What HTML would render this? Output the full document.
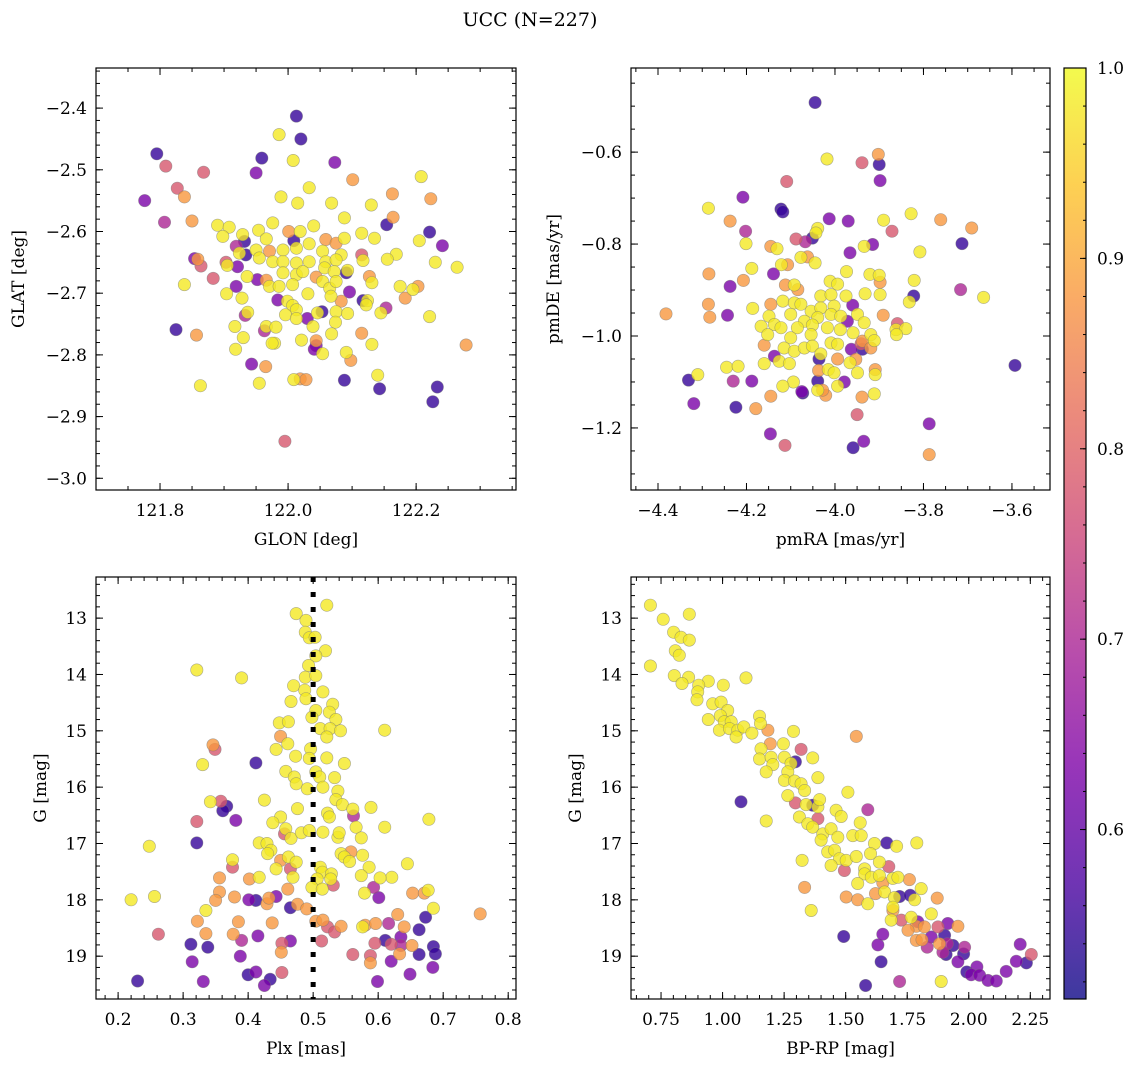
<!DOCTYPE html>
<html><head><meta charset="utf-8"><title>UCC (N=227)</title>
<style>
html,body{margin:0;padding:0;background:#fff;}
svg{display:block;font-family:"DejaVu Serif","Liberation Serif",serif;}
</style></head>
<body>
<svg id="fig" width="1136" height="1067" viewBox="0 0 1136 1067" xmlns="http://www.w3.org/2000/svg">
<defs>
<linearGradient id="plasma" x1="0" y1="1" x2="0" y2="0">
<stop offset="0" stop-color="#0d0887"/><stop offset="0.125" stop-color="#4c02a1"/><stop offset="0.25" stop-color="#7e03a8"/><stop offset="0.375" stop-color="#a82296"/><stop offset="0.5" stop-color="#cc4778"/><stop offset="0.625" stop-color="#e66c5c"/><stop offset="0.75" stop-color="#f89540"/><stop offset="0.875" stop-color="#fdc527"/><stop offset="1" stop-color="#f0f921"/>
</linearGradient>
</defs>
<text x="530" y="26" font-size="19" text-anchor="middle">UCC (N=227)</text>
</svg>
<script>
// ---- Panel 1: GLON / GLAT ----
const glon1=[122.013,121.986,122.020,121.795,121.959,122.008,122.073,121.809,121.868,121.950,122.101,122.208,121.827,121.838,122.033,121.989,121.776,122.015,122.068,122.130,122.163,122.223,122.088,122.164,122.154,121.807,121.850,121.890,121.908,121.976,122.040,122.221,122.241,122.001,122.019,121.954,121.898,121.929,121.966,122.059,122.088,122.115,122.135,122.205,122.009,121.932,121.919,121.934,121.950,121.971,121.924,121.992,122.013,122.033,122.054,122.075,122.083,122.115,122.117,122.169,122.155,122.230,122.264,121.854,121.859,121.864,121.903,121.905,121.921,121.955,121.976,121.992,122.013,122.033,122.059,122.075,121.992,122.013,122.023,122.044,122.057,122.072,122.091,122.093,122.127,122.131,121.936,121.952,121.966,121.883,121.838,121.919,121.971,121.986,122.007,122.054,122.065,122.075,122.096,122.067,122.083,122.031,122.175,122.203,122.195,122.183,121.904,121.928,121.984,121.999,122.117,122.124,122.122,122.153,122.145,121.937,121.933,122.007,122.013,122.053,122.046,122.075,122.093,121.996,122.013,122.030,122.221,121.825,121.917,121.966,121.963,121.981,122.039,122.074,121.857,121.930,122.068,122.115,121.979,121.975,122.021,122.044,122.044,122.131,122.041,122.054,121.918,122.091,122.098,121.943,121.965,122.140,121.863,121.955,122.009,122.019,122.028,122.088,122.143,122.233,122.226,121.995,122.278];
const glat1=[-2.413,-2.443,-2.450,-2.474,-2.481,-2.485,-2.488,-2.494,-2.504,-2.505,-2.516,-2.511,-2.530,-2.544,-2.529,-2.544,-2.550,-2.554,-2.554,-2.557,-2.539,-2.547,-2.578,-2.577,-2.589,-2.585,-2.583,-2.590,-2.593,-2.586,-2.591,-2.601,-2.623,-2.600,-2.600,-2.598,-2.608,-2.605,-2.612,-2.613,-2.611,-2.603,-2.611,-2.615,-2.615,-2.616,-2.624,-2.638,-2.630,-2.632,-2.635,-2.630,-2.627,-2.620,-2.632,-2.619,-2.638,-2.638,-2.647,-2.637,-2.645,-2.650,-2.658,-2.644,-2.645,-2.656,-2.650,-2.655,-2.657,-2.643,-2.649,-2.649,-2.651,-2.649,-2.649,-2.646,-2.667,-2.670,-2.665,-2.674,-2.659,-2.665,-2.667,-2.663,-2.673,-2.683,-2.673,-2.678,-2.679,-2.676,-2.686,-2.689,-2.689,-2.689,-2.686,-2.681,-2.692,-2.681,-2.698,-2.705,-2.713,-2.701,-2.689,-2.689,-2.694,-2.708,-2.701,-2.708,-2.711,-2.713,-2.712,-2.712,-2.719,-2.724,-2.732,-2.731,-2.736,-2.720,-2.727,-2.730,-2.732,-2.730,-2.733,-2.735,-2.741,-2.741,-2.738,-2.759,-2.754,-2.754,-2.761,-2.755,-2.754,-2.747,-2.768,-2.772,-2.766,-2.765,-2.781,-2.781,-2.776,-2.777,-2.785,-2.783,-2.791,-2.798,-2.791,-2.796,-2.809,-2.815,-2.819,-2.833,-2.850,-2.846,-2.840,-2.839,-2.840,-2.841,-2.855,-2.852,-2.876,-2.940,-2.784];
const prob1="DYDDDYVPPVOYPOYYVYYYOOYODMOYYYYDVOYYYYYOYYYYDDMDYOYYYYYOYPYYYYYVOPPYVYYYYYYYYYYOYYDYOYYVOPYVYYYYYYVYOYYOYOYYVYDYYMYYMYYDYYYYYVYDYYMYYYOYYOYYYOVYVYYYOVOYYYYOODDDDPO";
// ---- Panel 2: pmRA / pmDE ----
const pmra2=[-4.045,-4.018,-3.939,-3.902,-3.900,-3.898,-4.109,-4.208,-4.286,-4.122,-4.118,-4.013,-3.970,-4.237,-3.890,-3.828,-3.761,-3.691,-4.202,-3.871,-4.039,-4.043,-4.051,-4.088,-4.067,-4.201,-3.713,-4.145,-4.131,-3.934,-3.915,-3.966,-3.808,-4.077,-4.062,-4.045,-4.121,-4.107,-4.188,-4.139,-4.285,-3.974,-3.921,-3.900,-3.898,-4.011,-3.994,-3.821,-4.112,-4.092,-4.237,-4.207,-4.084,-3.716,-3.664,-3.822,-3.832,-3.932,-3.898,-4.032,-4.009,-3.975,-4.286,-4.243,-4.283,-4.382,-4.186,-4.145,-4.149,-4.118,-4.092,-4.077,-4.054,-4.032,-4.002,-3.960,-3.949,-3.891,-4.167,-4.137,-4.100,-4.069,-4.039,-4.009,-3.987,-3.972,-3.934,-3.859,-3.862,-3.840,-3.861,-4.152,-4.122,-4.085,-4.051,-4.017,-3.988,-3.959,-3.919,-3.938,-3.911,-4.160,-4.100,-4.054,-4.009,-3.994,-3.919,-3.963,-3.938,-3.941,-4.137,-4.115,-4.092,-4.069,-4.051,-4.032,-4.126,-4.103,-4.036,-3.994,-3.966,-3.953,-4.160,-4.245,-4.219,-4.037,-4.015,-4.002,-3.949,-3.909,-3.909,-4.310,-4.331,-4.230,-4.188,-4.094,-4.039,-3.994,-3.979,-4.118,-4.145,-4.075,-4.073,-4.039,-4.021,-4.028,-3.939,-3.911,-4.319,-4.224,-4.179,-3.950,-3.593,-3.787,-4.146,-4.113,-3.959,-3.935,-3.787];
const pmde2=[-0.492,-0.615,-0.623,-0.605,-0.627,-0.662,-0.664,-0.698,-0.722,-0.724,-0.730,-0.745,-0.750,-0.750,-0.748,-0.734,-0.747,-0.765,-0.772,-0.772,-0.766,-0.776,-0.787,-0.789,-0.795,-0.799,-0.799,-0.805,-0.810,-0.805,-0.801,-0.819,-0.817,-0.829,-0.828,-0.841,-0.845,-0.845,-0.853,-0.865,-0.865,-0.860,-0.866,-0.868,-0.883,-0.881,-0.887,-0.879,-0.889,-0.889,-0.892,-0.879,-0.899,-0.899,-0.916,-0.913,-0.926,-0.908,-0.910,-0.913,-0.910,-0.913,-0.931,-0.955,-0.959,-0.952,-0.940,-0.931,-0.957,-0.924,-0.928,-0.931,-0.946,-0.939,-0.935,-0.933,-0.953,-0.955,-0.979,-0.975,-0.953,-0.968,-0.960,-0.953,-0.957,-0.968,-0.971,-0.973,-0.986,-0.984,-0.997,-0.997,-0.982,-0.982,-0.976,-0.982,-0.986,-0.993,-0.997,-1.011,-1.010,-1.020,-1.004,-0.997,-1.015,-1.018,-1.026,-1.029,-1.029,-1.017,-1.044,-1.026,-1.033,-1.026,-1.022,-1.039,-1.055,-1.060,-1.050,-1.050,-1.058,-1.051,-1.060,-1.068,-1.066,-1.075,-1.073,-1.080,-1.080,-1.073,-1.084,-1.084,-1.096,-1.098,-1.098,-1.100,-1.098,-1.109,-1.100,-1.109,-1.131,-1.121,-1.124,-1.118,-1.129,-1.118,-1.133,-1.126,-1.147,-1.155,-1.158,-1.171,-1.064,-1.191,-1.213,-1.238,-1.243,-1.229,-1.258];
const prob2="DYPODVPVYDDVVOYYOOMPYYDPMYDOYYVVYYOYYOYVOYYYOYYYOYVOOMYDYYYYYYOVOOYOYYYYYYYVYOYYYYYYYVYPYYYYYYYYYYYOYOYYYYOVDPVYYYYYYYDOYOYYYOYYYOYYDMVYDYVYOVDYOOOYVDOPDVVPDVOM";
// ---- Panel 3: Plx / G ----
const plx3=[0.521,0.474,0.489,0.488,0.494,0.503,0.519,0.504,0.493,0.321,0.390,0.488,0.504,0.470,0.487,0.515,0.466,0.489,0.530,0.525,0.535,0.504,0.498,0.448,0.462,0.511,0.526,0.542,0.521,0.610,0.450,0.346,0.349,0.461,0.443,0.496,0.330,0.412,0.473,0.494,0.521,0.548,0.458,0.471,0.504,0.510,0.474,0.533,0.491,0.515,0.538,0.535,0.545,0.342,0.358,0.367,0.361,0.425,0.476,0.561,0.562,0.589,0.678,0.321,0.381,0.450,0.438,0.522,0.525,0.566,0.610,0.458,0.456,0.466,0.482,0.494,0.515,0.538,0.540,0.574,0.248,0.321,0.417,0.429,0.435,0.430,0.543,0.558,0.548,0.576,0.556,0.586,0.376,0.376,0.450,0.462,0.474,0.443,0.465,0.511,0.514,0.528,0.469,0.645,0.356,0.402,0.417,0.506,0.527,0.531,0.574,0.621,0.603,0.498,0.514,0.461,0.593,0.579,0.601,0.653,0.671,0.677,0.220,0.256,0.356,0.379,0.350,0.401,0.412,0.429,0.432,0.443,0.465,0.476,0.490,0.685,0.335,0.322,0.385,0.437,0.504,0.515,0.522,0.533,0.543,0.576,0.580,0.596,0.616,0.630,0.640,0.663,0.673,0.757,0.262,0.335,0.377,0.390,0.415,0.465,0.452,0.513,0.312,0.338,0.451,0.388,0.595,0.611,0.620,0.635,0.635,0.652,0.561,0.588,0.588,0.620,0.633,0.663,0.685,0.688,0.684,0.314,0.452,0.400,0.412,0.434,0.425,0.230,0.331,0.599,0.649];
const gmag3=[12.77,12.92,13.04,13.25,13.35,13.34,13.58,13.67,13.84,13.92,14.06,14.05,14.02,14.20,14.28,14.31,14.48,14.43,14.53,14.67,14.80,14.64,14.76,14.86,14.84,14.96,14.96,15.00,15.11,14.99,15.10,15.25,15.33,15.23,15.33,15.32,15.60,15.57,15.45,15.49,15.48,15.58,15.72,15.82,15.73,15.82,15.94,15.83,16.03,16.00,16.07,16.22,16.31,16.26,16.25,16.34,16.42,16.23,16.38,16.39,16.51,16.36,16.57,16.61,16.59,16.53,16.63,16.46,16.53,16.71,16.71,16.74,16.83,16.91,16.81,16.77,16.80,16.89,16.81,16.90,17.05,16.99,16.99,17.00,17.12,17.18,17.18,17.15,17.24,17.21,17.32,17.42,17.29,17.42,17.30,17.24,17.33,17.45,17.45,17.42,17.51,17.54,17.60,17.36,17.61,17.63,17.60,17.63,17.63,17.74,17.57,17.60,17.61,17.78,17.81,17.81,17.78,17.88,17.96,17.88,17.88,17.83,18.00,17.94,17.86,17.95,18.01,18.00,18.01,18.07,17.97,17.94,18.14,18.08,18.16,18.15,18.19,18.38,18.39,18.41,18.38,18.36,18.48,18.57,18.47,18.48,18.45,18.42,18.42,18.26,18.48,18.53,18.31,18.25,18.61,18.60,18.61,18.72,18.64,18.73,18.77,18.73,18.79,18.84,18.93,19.00,18.77,18.72,18.79,18.66,18.81,18.81,18.97,18.99,19.12,19.09,18.96,18.97,18.83,18.96,19.20,19.10,19.29,19.33,19.28,19.41,19.52,19.44,19.45,19.45,19.32];
const prob3="YYYYYYYYYYYYYYYYYYYYYYYYYYYYYYOOPYYYYDYYYYYYYYYYYYYYYYPDDYYYMYYPVYYYYYYYPYYYYYYYYDYYYYYOYYYYYPOYYYPYYYYYOOYYYPYYYYYOMYVOOYYYOOOVDOOVDOOYYOOOOOPPOYOOMOODDOPOOMVVPPDDOVPDPVMOPPOVODDDVVPDVDVDVVVVVDMV";
const plxRef=[0.5];
// ---- Panel 4: BP-RP / G ----
const bprp4=[0.707,0.759,0.865,0.801,0.831,0.865,0.808,0.824,0.707,0.804,0.862,0.835,1.095,0.942,1.003,0.903,0.899,0.896,0.960,0.994,1.021,0.991,0.942,1.007,1.035,0.987,1.028,1.062,1.055,1.086,1.119,1.150,1.154,1.184,1.288,1.543,1.194,1.156,1.150,1.197,1.204,1.247,1.251,1.319,1.366,1.296,1.278,1.265,1.251,1.292,1.319,1.333,1.387,1.177,1.265,1.296,1.339,1.366,1.387,1.394,1.509,1.075,1.590,1.461,1.482,1.312,1.346,1.387,1.366,1.407,1.441,1.468,1.529,1.559,1.563,1.177,1.400,1.427,1.455,1.475,1.502,1.543,1.617,1.667,1.707,1.789,1.601,1.637,1.675,1.323,1.441,1.495,1.577,1.577,1.549,1.604,1.637,1.651,1.692,1.712,1.759,1.807,1.333,1.502,1.549,1.590,1.621,1.658,1.698,1.719,1.762,1.780,1.872,1.360,1.692,1.692,1.685,1.726,1.766,1.793,1.848,1.875,1.915,1.956,1.787,1.753,1.820,1.848,1.902,1.787,1.810,1.831,1.881,1.913,1.895,1.936,1.983,1.908,1.956,1.979,1.492,1.631,1.651,1.644,1.992,2.033,2.010,2.044,2.078,2.112,2.152,2.193,2.234,2.254,2.209,1.581,1.719,1.888];
const gmag4=[12.77,13.02,12.93,13.25,13.34,13.39,13.58,13.66,13.85,14.02,14.05,14.16,14.06,14.12,14.19,14.19,14.31,14.45,14.52,14.49,14.64,14.73,14.80,14.84,14.84,14.99,14.96,14.99,15.11,14.93,15.04,14.74,14.87,14.99,15.01,15.10,15.23,15.32,15.50,15.47,15.60,15.23,15.47,15.33,15.48,15.55,15.58,15.73,15.88,15.89,15.94,16.06,15.83,15.73,16.15,16.28,16.31,16.32,16.35,16.22,16.09,16.26,16.40,16.41,16.52,16.53,16.65,16.56,16.71,16.83,16.74,16.89,16.86,16.63,16.86,16.60,16.94,17.15,17.12,17.27,17.30,17.23,17.00,16.99,17.05,16.99,17.18,17.33,17.41,17.30,17.39,17.48,17.45,17.54,17.71,17.60,17.57,17.70,17.62,17.60,17.64,17.80,17.78,17.95,18.00,18.07,17.89,17.86,17.96,17.94,17.92,18.00,17.97,18.19,18.13,18.19,18.36,18.36,18.31,18.39,18.25,18.48,18.42,18.47,18.47,18.54,18.48,18.66,18.63,18.72,18.71,18.84,18.78,18.78,18.93,18.81,18.84,18.97,19.10,18.96,18.65,18.80,18.61,19.10,19.28,19.19,19.33,19.34,19.43,19.44,19.27,19.09,19.12,18.97,18.79,19.52,19.45,19.45];
const prob4="YYYYYYYYYYYYYYYYYYYYYYYYYYYYYYYYYOYOOYYYYYYPYDYYYYYYYYYPYDYYYDMYYYYPYYYYYYYYYYYYYYYDYYYYPYYPYYYYYOYYOYOOOYOYYDDYOYYOYPYVYPVOOOOVDOOMOMMDMDVDDVVDDVVVVVVVDPVDM";
// probability levels for the letter codes
const probLevels={D:0.55,V:0.63,M:0.70,P:0.78,O:0.88,Y:0.98};
const cbTicks=[0.6,0.7,0.8,0.9,1.0];

const svg=document.getElementById('fig');
const NS='http://www.w3.org/2000/svg';
function mk(tag,attrs,parent){const e=document.createElementNS(NS,tag);for(const k in attrs)e.setAttribute(k,attrs[k]);(parent||svg).appendChild(e);return e;}
const stops=[[0,[13,8,135]],[0.125,[76,2,161]],[0.25,[126,3,168]],[0.375,[168,34,150]],[0.5,[204,71,120]],[0.625,[230,108,92]],[0.75,[248,149,64]],[0.875,[253,197,39]],[1,[240,249,33]]];
const VMIN=0.511,VMAX=1.0;
function plasma(p){let t=(p-VMIN)/(VMAX-VMIN);t=Math.max(0,Math.min(1,t));for(let i=1;i<stops.length;i++){if(t<=stops[i][0]){const a=stops[i-1],b=stops[i];const f=(t-a[0])/(b[0]-a[0]);return 'rgb('+a[1].map((v,j)=>Math.round(v+(b[1][j]-v)*f)).join(',')+')';}}return 'rgb(240,249,33)';}
function fmt(v,d){const s=Math.abs(v).toFixed(d);return (v<-1e-9?'\u2212':'')+s;}
const FS=17;

function panel(cfg){
  const {name,x0,y0,x1,y1,xd,yd,yinv,xmaj,xmin,ymaj,ymin,xdec,ydec,xlabel,ylabel,xs,ys,ps}=cfg;
  const g=mk('g',{});
  
  
  const sx=v=>x0+(v-xd[0])/(xd[1]-xd[0])*(x1-x0);
  const sy=v=>yinv? y0+(v-yd[0])/(yd[1]-yd[0])*(y1-y0) : y1-(v-yd[0])/(yd[1]-yd[0])*(y1-y0);
  const clip='clip-'+name;
  const cp=mk('clipPath',{id:clip},g);mk('rect',{x:x0,y:y0,width:x1-x0,height:y1-y0},cp);
  const pg=mk('g',{'clip-path':'url(#'+clip+')'},g);
  const idx=xs.map((_,i)=>i).sort((a,b)=>(probLevels[ps[a]]||0.98)-(probLevels[ps[b]]||0.98));
  idx.forEach(i=>{
    const p=probLevels[ps[i]]||0.98;
    const c=mk('circle',{cx:sx(xs[i]).toFixed(1),cy:sy(ys[i]).toFixed(1),r:6.2,fill:plasma(p),'fill-opacity':0.8,stroke:'#777','stroke-opacity':0.6,'stroke-width':0.6},pg);
    
    
  });
  if(cfg.extra)cfg.extra(pg,sx,sy);
  const tg=mk('g',{stroke:'#000','stroke-width':1},g);
  function ticksX(step,len,labels){const s=Math.ceil(xd[0]/step-1e-6);for(let k=s;k*step<=xd[1]+1e-9;k++){const v=+(k*step).toFixed(6);const X=sx(v);mk('line',{x1:X,y1:y1,x2:X,y2:y1-len},tg);mk('line',{x1:X,y1:y0,x2:X,y2:y0+len},tg);
    if(labels){const t=mk('text',{x:X,y:y1+26,'font-size':FS,'text-anchor':'middle',stroke:'none',fill:'#000'},g);t.textContent=fmt(v,xdec);}}}
  function ticksY(step,len,labels){const s=Math.ceil(yd[0]/step-1e-6);for(let k=s;k*step<=yd[1]+1e-9;k++){const v=+(k*step).toFixed(6);const Y=sy(v);mk('line',{x1:x0,y1:Y,x2:x0+len,y2:Y},tg);mk('line',{x1:x1,y1:Y,x2:x1-len,y2:Y},tg);
    if(labels){const t=mk('text',{x:x0-9,y:Y+6,'font-size':FS,'text-anchor':'end',stroke:'none',fill:'#000'},g);t.textContent=fmt(v,ydec);}}}
  ticksX(xmin,4,false);ticksX(xmaj,7,true);ticksY(ymin,4,false);ticksY(ymaj,7,true);
  mk('rect',{x:x0,y:y0,width:x1-x0,height:y1-y0,fill:'none',stroke:'#000','stroke-width':1.2},g);
  const xl=mk('text',{x:(x0+x1)/2,y:y1+55,'font-size':FS,'text-anchor':'middle'},g);xl.textContent=xlabel;
  
  const lx=cfg.ylx,ly=(y0+y1)/2;
  const yl=mk('text',{x:lx,y:ly,'font-size':FS,'text-anchor':'middle',transform:'rotate(-90 '+lx+' '+ly+')'},g);yl.textContent=ylabel;
  
}

panel({name:'glon-glat-panel',x0:96,y0:68,x1:516,y1:490,xd:[121.7,122.356],yd:[-3.019,-2.335],xmaj:0.2,xmin:0.05,ymaj:0.1,ymin:0.02,xdec:1,ydec:1,xlabel:'GLON [deg]',ylabel:'GLAT [deg]',ylx:24,xs:glon1,ys:glat1,ps:prob1});
panel({name:'pm-panel',x0:631,y0:68,x1:1050,y1:490,xd:[-4.461,-3.514],yd:[-1.335,-0.417],xmaj:0.2,xmin:0.05,ymaj:0.2,ymin:0.05,xdec:1,ydec:1,xlabel:'pmRA [mas/yr]',ylabel:'pmDE [mas/yr]',ylx:559,xs:pmra2,ys:pmde2,ps:prob2});
panel({name:'plx-g-panel',x0:96,y0:577,x1:516,y1:999,xd:[0.166,0.812],yd:[12.27,19.76],yinv:true,xmaj:0.1,xmin:0.02,ymaj:1,ymin:0.2,xdec:1,ydec:0,xlabel:'Plx [mas]',ylabel:'G [mag]',ylx:46,xs:plx3,ys:gmag3,ps:prob3,
  extra:(pg,sx,sy)=>{plxRef.forEach(v=>{const l=mk('line',{x1:sx(v),y1:577,x2:sx(v),y2:999,stroke:'#000','stroke-width':5,'stroke-dasharray':'5,10'},pg);});}});
panel({name:'cmd-panel',x0:631,y0:577,x1:1050,y1:999,xd:[0.628,2.33],yd:[12.27,19.76],yinv:true,xmaj:0.25,xmin:0.05,ymaj:1,ymin:0.2,xdec:2,ydec:0,xlabel:'BP-RP [mag]',ylabel:'G [mag]',ylx:581,xs:bprp4,ys:gmag4,ps:prob4});

// colorbar
const cb=mk('g',{});


const cx0=1064,cx1=1086,cy0=68,cy1=999;
mk('rect',{x:cx0,y:cy0,width:cx1-cx0,height:cy1-cy0,fill:'url(#plasma)','fill-opacity':0.8},cb);
const cby=v=>cy1-(v-VMIN)/(VMAX-VMIN)*(cy1-cy0);
for(let k=26;k<=50;k++){const v=k*0.02;if(v<VMIN)continue;const Y=cby(v);mk('line',{x1:cx1,y1:Y,x2:cx1-3,y2:Y,stroke:'#000'},cb);}
cbTicks.forEach(v=>{const Y=cby(v);mk('line',{x1:cx1,y1:Y,x2:cx1-6,y2:Y,stroke:'#000'},cb);
  const t=mk('text',{x:cx1+11,y:Y+6,'font-size':FS},cb);t.textContent=v.toFixed(1);
  });
mk('rect',{x:cx0,y:cy0,width:cx1-cx0,height:cy1-cy0,fill:'none',stroke:'#000','stroke-width':1.2},cb);
</script>
</body></html>
